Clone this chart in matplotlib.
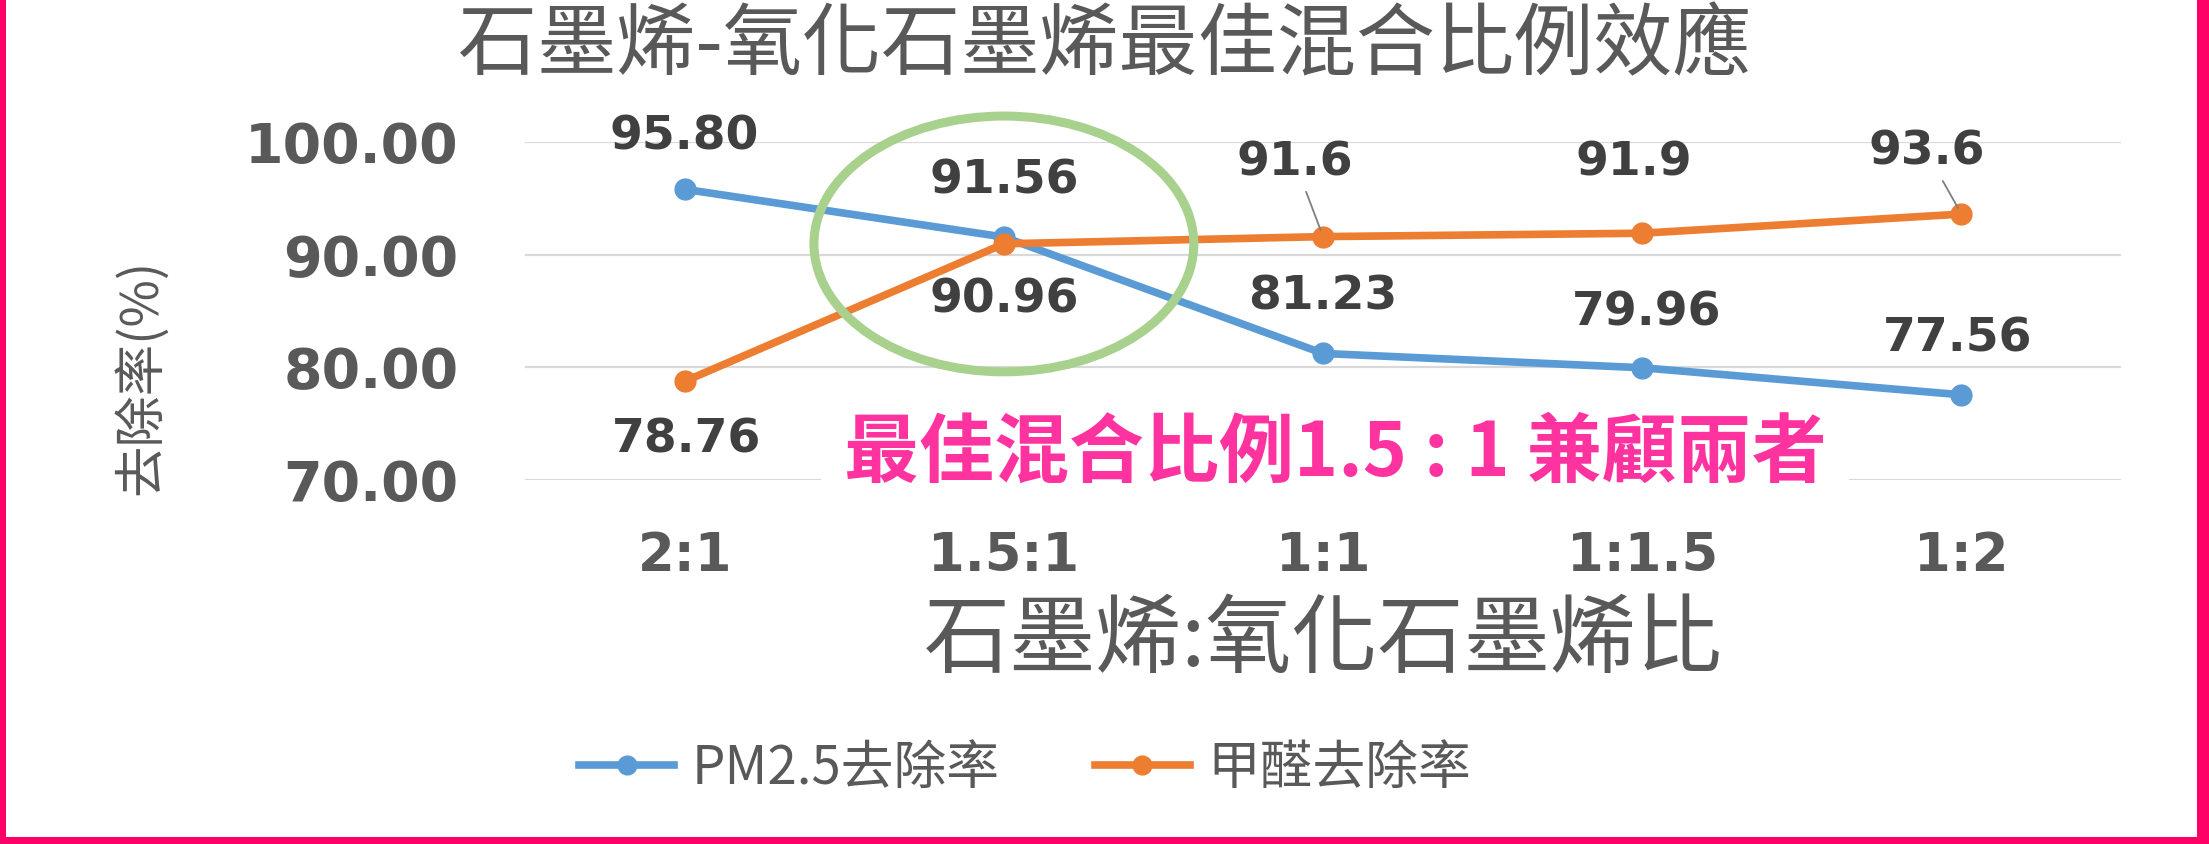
import matplotlib
matplotlib.use("Agg")
import matplotlib.pyplot as plt
from matplotlib.patches import Ellipse

ratios = ["2:1", "1.5:1", "1:1", "1:1.5", "1:2"]
pm25 = [95.80, 91.56, 81.23, 79.96, 77.56]
hcho = [78.76, 90.96, 91.6, 91.9, 93.6]
pm25_labels = ["95.80", "91.56", "81.23", "79.96", "77.56"]
hcho_labels = ["78.76", "90.96", "91.6", "91.9", "93.6"]
yticks = [70, 80, 90, 100]

CJK = ["Noto Sans CJK TC", "DejaVu Sans"]
BLUE = "#5B9BD5"
ORANGE = "#ED7D31"
GREY = "#595959"
DARK = "#404040"

fig = plt.figure(figsize=(22.09, 8.44), dpi=100)
ax = fig.add_axes([0.2377, 0.4313, 0.7225, 0.4005])

x = range(len(ratios))
l1, = ax.plot(x, pm25, color=BLUE, lw=5.5, marker="o", ms=15, label="PM2.5去除率")
l2, = ax.plot(x, hcho, color=ORANGE, lw=5.5, marker="o", ms=15, label="甲醛去除率")

ax.set_xlim(-0.5, len(ratios) - 0.5)
ax.set_ylim(70, 100)
ax.set_yticks(yticks)
ax.set_yticklabels([f"{v:.2f}" for v in yticks])
ax.set_xticks(list(x))
ax.set_xticklabels(ratios)
for s in ax.spines.values():
    s.set_visible(False)
ax.grid(axis="y", color="#D9D9D9", lw=1.6)
ax.set_axisbelow(True)
ax.tick_params(axis="y", length=0, pad=48, labelsize=40, labelcolor=GREY)
ax.tick_params(axis="x", length=0, pad=36, labelsize=38, labelcolor=GREY)
for t in ax.get_xticklabels() + ax.get_yticklabels():
    t.set_fontweight("bold")

# value labels: PM2.5 above, formaldehyde below/above
pm_off = [(0, 52), (0, 56), (0, 56), (4, 55), (-4, 56)]
for i, (v, s) in enumerate(zip(pm25, pm25_labels)):
    ax.annotate(s, (i, v), xytext=pm_off[i], textcoords="offset pixels",
                ha="center", va="center", fontsize=34, fontweight="bold",
                color=DARK, annotation_clip=False)
hc_off = [(2, -59), (0, -56), (-28, 74), (-8, 70), (-35, 62)]
for i, (v, s) in enumerate(zip(hcho, hcho_labels)):
    arrow = None
    if i in (2, 4):
        arrow = dict(arrowstyle="-", color="#7F7F7F", lw=1.3, shrinkA=3, shrinkB=5)
    ax.annotate(s, (i, v), xytext=hc_off[i], textcoords="offset pixels",
                ha="center", va="center", fontsize=34, fontweight="bold",
                color=DARK, annotation_clip=False, arrowprops=arrow)

# highlight the best mixing ratio
ax.add_patch(Ellipse((1, 90.95), 1.19, 22.7, fill=False, ec="#A9D18E",
                     lw=6.5, clip_on=False, zorder=5))

fig.text(0.5, 0.945, "石墨烯-氧化石墨烯最佳混合比例效應", ha="center", va="center",
         fontsize=57, color=GREY, family=CJK)
fig.text(0.599, 0.24, "石墨烯:氧化石墨烯比", ha="center", va="center",
         fontsize=62, color=GREY, family=CJK)
fig.text(0.064, 0.554, "去除率(%)", ha="center", va="center", rotation=90,
         fontsize=37, color=GREY, family=CJK)
fig.text(0.6043, 0.4621, "最佳混合比例1.5 : 1 兼顧兩者", ha="center", va="center",
         fontsize=54, fontweight="bold", color="#FF33A0", family=CJK,
         bbox=dict(boxstyle="square,pad=0.3", fc="white", ec="none"))

leg = fig.legend(handles=[l1, l2], loc="center", bbox_to_anchor=(0.464, 0.09),
                 ncol=2, frameon=False, handlelength=1.8, handletextpad=0.33,
                 columnspacing=1.8, prop={"family": CJK, "size": 38}, markerscale=0.9)
for t in leg.get_texts():
    t.set_color(GREY)

# pink frame on left, right and bottom edges
fig.add_artist(plt.Rectangle((0, 0), 6 / 2209, 1, transform=fig.transFigure,
                             color="#FF0066", lw=0))
fig.add_artist(plt.Rectangle((1 - 12 / 2209, 0), 12 / 2209, 1, transform=fig.transFigure,
                             color="#FF0066", lw=0))
fig.add_artist(plt.Rectangle((0, 0), 1, 7 / 844, transform=fig.transFigure,
                             color="#FF0066", lw=0))

fig.savefig("out.png", dpi=100)
